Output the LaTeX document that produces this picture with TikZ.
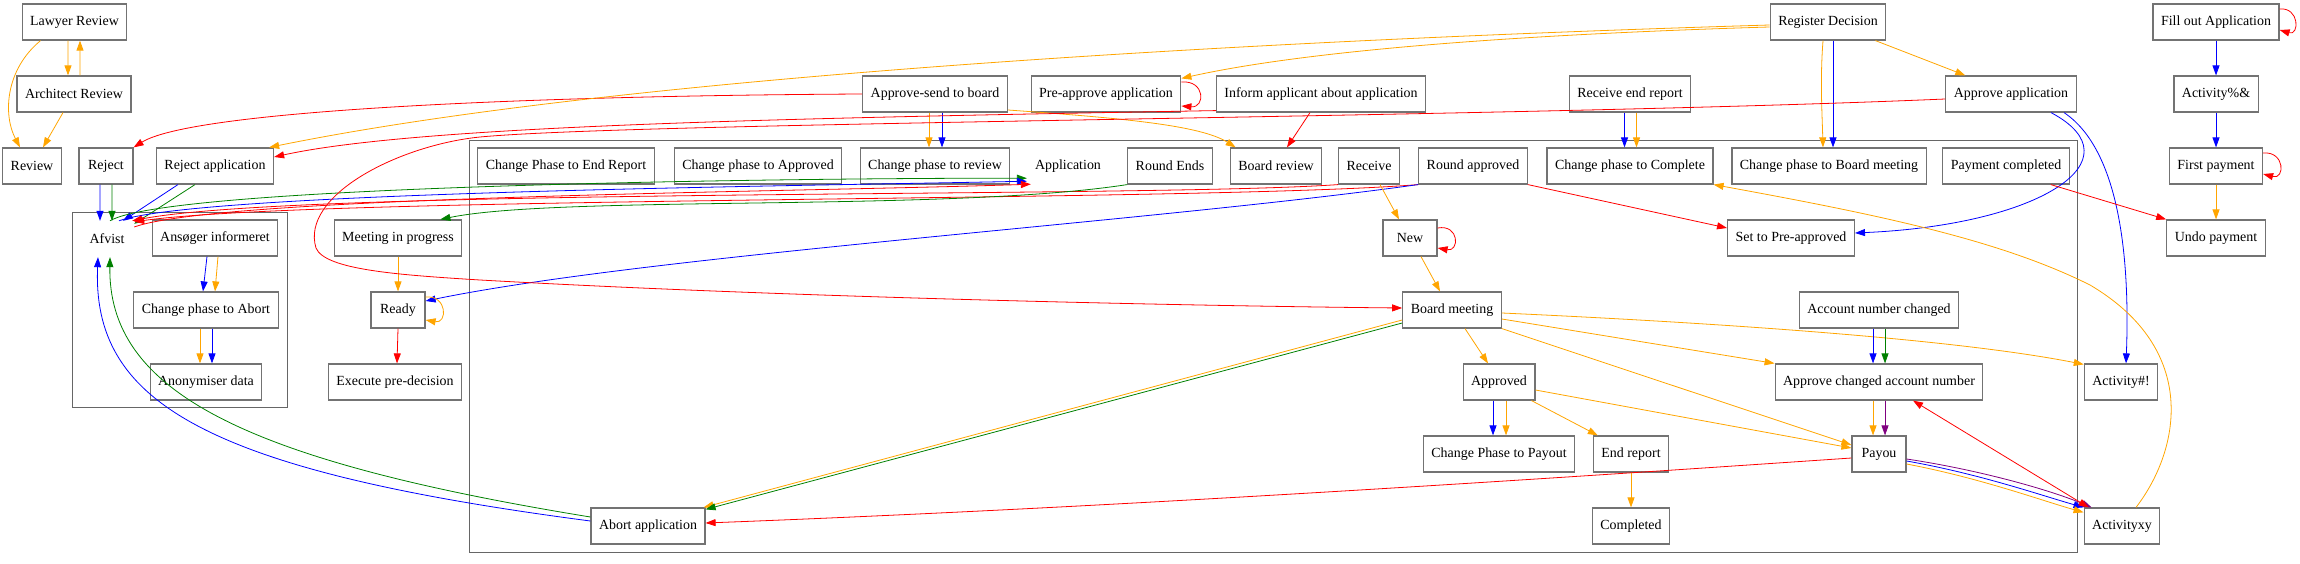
\documentclass[tikz,border=0pt]{standalone}
\usepackage{fontspec}
\setmainfont{Liberation Serif}
\usepackage{tikz}
\usetikzlibrary{arrows.meta}
\definecolor{gorange}{HTML}{FFA500}
\definecolor{ggreen}{HTML}{008000}
\definecolor{gpurple}{HTML}{800080}
\tikzset{
  state/.style    = {draw=black!55, line width=1.2pt, rectangle, minimum height=36bp,
                     minimum width=54bp, inner xsep=8bp, inner ysep=0pt},
  plainlbl/.style = {rectangle, minimum height=36bp, minimum width=54bp, inner xsep=8bp},
  cluster/.style  = {draw=black!60, line width=1pt},
  flow/.style     = {-{Triangle[length=10bp,width=7bp]}, line width=0.8pt},
  flowboth/.style = {{Triangle[length=10bp,width=7bp]}-{Triangle[length=10bp,width=7bp]}, line width=0.8pt},
}

\begin{document}
\begin{tikzpicture}[x=1bp,y=-1bp,font=\fontsize{14}{17}\selectfont]
\useasboundingbox (0,0) rectangle (2300,564);
% ---- clusters ----
\draw[cluster] (72,212) rectangle (287,407);
\draw[cluster] (469,140) rectangle (2077,552);
% ---- row 1 ----
\node[state] (lawyer) at (74.5,22) {Lawyer Review};
\node[state] (regdec) at (1828,22) {Register Decision};
\node[state] (fillout) at (2216,22) {Fill out Application};
% ---- row 2 ----
\node[state] (architect) at (74,94) {Architect Review};
\node[state] (sendboard) at (935,94) {Approve-send to board};
\node[state] (preapprove) at (1106,94) {Pre-approve application};
\node[state] (inform) at (1321,94) {Inform applicant about application};
\node[state] (rcvend) at (1630,94) {Receive end report};
\node[state] (approveapp) at (2011,94) {Approve application};
\node[state] (act1) at (2216,94) {Activity\%\&};
% ---- row 3 ----
\node[state] (review) at (32,166) {Review};
\node[state] (reject) at (106,166) {Reject};
\node[state] (rejectapp) at (215,166) {Reject application};
\node[state] (toend) at (566,166) {Change Phase to End Report};
\node[state] (toapproved) at (758,166) {Change phase to Approved};
\node[state] (toreview) at (935,166) {Change phase to review};
\node[plainlbl] (application) at (1068,166) {Application};
\node[state] (roundends) at (1170,166) {Round Ends};
\node[state] (boardreview) at (1276,166) {Board review};
\node[state] (receive) at (1369,166) {Receive};
\node[state] (roundappr) at (1473,166) {Round approved};
\node[state] (tocomplete) at (1630,166) {Change phase to Complete};
\node[state] (toboard) at (1829,166) {Change phase to Board meeting};
\node[state] (paydone) at (2006,166) {Payment completed};
\node[state] (firstpay) at (2216,166) {First payment};
% ---- row 4 ----
\node[plainlbl] (afvist) at (107,239) {Afvist};
\node[state] (ansoger) at (215,238) {Ansøger informeret};
\node[state] (meeting) at (398,238) {Meeting in progress};
\node[state] (new) at (1410,238) {New};
\node[state] (setpre) at (1791,238) {Set to Pre-approved};
\node[state] (undopay) at (2216,238) {Undo payment};
% ---- row 5 ----
\node[state] (toabort) at (206,310) {Change phase to Abort};
\node[state] (ready) at (398,310) {Ready};
\node[state] (boardmeet) at (1452,310) {Board meeting};
\node[state] (acctchg) at (1879,310) {Account number changed};
% ---- row 6 ----
\node[state] (anonym) at (206,382) {Anonymiser data};
\node[state] (execpre) at (395,382) {Execute pre-decision};
\node[state] (approved) at (1499,382) {Approved};
\node[state] (approvechg) at (1879,382) {Approve changed account number};
\node[state] (act2) at (2121,382) {Activity\#!};
% ---- row 7 ----
\node[state] (topayout) at (1499,454) {Change Phase to Payout};
\node[state] (endreport) at (1631,454) {End report};
\node[state] (payou) at (1879,454) {Payou};
% ---- row 8 ----
\node[state] (abort) at (648,526) {Abort application};
\node[state] (completed) at (1631,526) {Completed};
\node[state] (actxy) at (2122,526) {Activityxy};
% ---- left part ----
\draw[flow,gorange] ([xshift=-6.5bp]lawyer.south) -- ([xshift=-6bp]architect.north);
\draw[flow,gorange] ([xshift=6bp]architect.north) -- ([xshift=5.5bp]lawyer.south);
\draw[flow,gorange] ([xshift=19bp]lawyer.south west) .. controls (5,70) and (3,115) .. ([xshift=-12bp]review.north);
\draw[flow,gorange] ([xshift=-11bp]architect.south) -- ([xshift=11bp]review.north);
\draw[flow,blue] ([xshift=-6bp]reject.south) -- ([xshift=-7bp]afvist.north);
\draw[flow,ggreen] ([xshift=6bp]reject.south) -- ([xshift=5bp]afvist.north);
\draw[flow,blue] ([xshift=-37bp]rejectapp.south) -- ([xshift=16bp]afvist.north);
\draw[flow,ggreen] ([xshift=-20bp]rejectapp.south) -- ([yshift=-3bp]afvist.north east);
\draw[flow,blue] ([xshift=-8bp]ansoger.south) -- ([xshift=-3bp]toabort.north);
\draw[flow,gorange] ([xshift=3bp]ansoger.south) -- ([xshift=9bp]toabort.north);
\draw[flow,gorange] ([xshift=-6bp]toabort.south) -- ([xshift=-6bp]anonym.north);
\draw[flow,blue] ([xshift=6bp]toabort.south) -- ([xshift=6bp]anonym.north);
\draw[flow,blue] ([yshift=5bp]abort.west) .. controls (200,470) and (92,400) .. ([xshift=-9bp]afvist.south);
\draw[flow,ggreen] ([yshift=9bp]abort.west) .. controls (240,460) and (108,390) .. ([xshift=3bp]afvist.south);
% afvist to application
\draw[flow,ggreen] ([xshift=3bp]afvist.north) .. controls (170,185) and (800,178) .. ([yshift=6bp]application.south west);
\draw[flow,blue] ([xshift=12bp]afvist.north) .. controls (200,192) and (800,186) .. ([yshift=3bp]application.south west);
\draw[flow,red] ([yshift=12bp]afvist.east) .. controls (220,196) and (800,192) .. ([xshift=4bp]application.south west);
\draw[flow,red] (receive.south west) .. controls (1150,198) and (300,188) .. ([xshift=-2bp]afvist.north east);
\draw[flow,red] (roundappr.south west) .. controls (1200,202) and (320,196) .. ([yshift=-1bp]afvist.north east);
% meeting and ready
\draw[flow,ggreen] (roundends.south west) .. controls (950,212) and (560,195) .. ([xshift=-22bp]meeting.north east);
\draw[flow,blue] (roundappr.south west) .. controls (1150,222) and (650,255) .. ([yshift=9bp]ready.east);
\draw[flow,gorange] ([yshift=13bp]ready.east) .. controls +(22,-2) and +(22,4) .. ([yshift=-10bp]ready.east);
\draw[flow,gorange] (meeting.south) -- (ready.north);
\draw[flow,red] (ready.south) -- ([xshift=2bp]execpre.north);
% ---- top part ----
\draw[flow,red] (sendboard.west) .. controls (500,96) and (190,112) .. (reject.north east);
\draw[flow,gorange] ([xshift=-6bp]sendboard.south) -- ([xshift=-6bp]toreview.north);
\draw[flow,blue] ([xshift=7bp]sendboard.south) -- ([xshift=7bp]toreview.north);
\draw[flow,gorange] ([yshift=-16bp]sendboard.east) .. controls (1120,118) and (1200,125) .. ([xshift=6bp]boardreview.north west);
\draw[flow,red] ([xshift=-11bp]inform.south) -- ([xshift=11bp]boardreview.north);
\draw[flow,red] ([yshift=2bp]inform.south west) .. controls (800,118) and (420,125) .. ([yshift=9bp]rejectapp.east);
\draw[flow,red] ([yshift=12bp]preapprove.east) .. controls +(24,-2) and +(24,2) .. ([yshift=-12bp]preapprove.east);
\draw[flow,gorange] ([yshift=-3bp]regdec.west) .. controls (1200,42) and (600,80) .. ([xshift=-5bp]rejectapp.north east);
\draw[flow,gorange] ([yshift=-5bp]regdec.west) .. controls (1500,35) and (1300,52) .. ([yshift=-3bp]preapprove.north east);
\draw[flow,gorange] ([xshift=-5bp]regdec.south) .. controls (1820,80) and (1822,110) .. ([xshift=-6bp]toboard.north);
\draw[flow,blue] ([xshift=5bp]regdec.south) -- ([xshift=4bp]toboard.north);
\draw[flow,gorange] ([xshift=-11bp]regdec.south east) -- ([xshift=20bp]approveapp.north west);
\draw[flow,blue] ([xshift=-5.5bp]rcvend.south) -- ([xshift=-5.5bp]tocomplete.north);
\draw[flow,gorange] ([xshift=6.5bp]rcvend.south) -- ([xshift=6.5bp]tocomplete.north);
\draw[flow,red] ([yshift=-5bp]approveapp.west) .. controls (1500,118) and (640,122) .. (480,137)
  .. controls (400,145) and (300,195) .. (316,248) .. controls (325,270) and (400,275) .. (480,280)
  .. controls (800,298) and (1200,306) .. ([yshift=2bp]boardmeet.west);
\draw[flow,blue] ([xshift=40bp]approveapp.south) .. controls (2140,160) and (2040,225) .. ([yshift=5bp]setpre.east);
\draw[flow,blue] ([xshift=53bp]approveapp.south) .. controls (2120,150) and (2130,260) .. ([xshift=5bp]act2.north);
\draw[flow,red] (roundappr.south east) -- ([yshift=10bp]setpre.west);
\draw[flow,red] ([xshift=-19bp]paydone.south east) -- (undopay.north west);
% ---- right column ----
\draw[flow,red] ([yshift=13bp]fillout.east) .. controls +(20,-2) and +(20,6) .. ([yshift=-8bp]fillout.east);
\draw[flow,blue] (fillout.south) -- (act1.north);
\draw[flow,blue] (act1.south) -- (firstpay.north);
\draw[flow,red] ([yshift=13bp]firstpay.east) .. controls +(22,-2) and +(22,6) .. ([yshift=-8bp]firstpay.east);
\draw[flow,gorange] (firstpay.south) -- (undopay.north);
% ---- board meeting part ----
\draw[flow,gorange] ([xshift=11bp]receive.south) -- ([xshift=-11bp]new.north);
\draw[flow,red] ([yshift=10bp]new.east) .. controls +(22,-4) and +(22,4) .. ([yshift=-10bp]new.east);
\draw[flow,gorange] ([xshift=11bp]new.south) -- ([xshift=-12bp]boardmeet.north);
\draw[flow,gorange] ([yshift=-10bp]boardmeet.west) -- ([xshift=-2bp]abort.north east);
\draw[flow,ggreen] ([yshift=-13bp]boardmeet.west) -- ([yshift=-2bp]abort.north east);
\draw[flow,red] ([yshift=-4bp]payou.west) .. controls (1500,482) and (1100,508) .. ([yshift=3bp]abort.east);
\draw[flow,gorange] ([xshift=13bp]boardmeet.south) -- ([xshift=-11bp]approved.north);
\draw[flow,gorange] ([yshift=-9bp]boardmeet.east) -- (approvechg.north west);
\draw[flow,gorange] (boardmeet.south east) -- ([yshift=9bp]payou.west);
\draw[flow,gorange] ([yshift=-8bp]approved.east) -- ([yshift=6bp]payou.west);
\draw[flow,gorange] ([yshift=-3bp]boardmeet.east) .. controls (1700,322) and (1950,338) .. ([yshift=-1bp]act2.north west);
\draw[flow,blue] ([xshift=-6bp]approved.south) -- ([xshift=-6bp]topayout.north);
\draw[flow,gorange] ([xshift=7bp]approved.south) -- ([xshift=7bp]topayout.north);
\draw[flow,gorange] ([xshift=-4bp]approved.south east) -- ([xshift=5bp]endreport.north west);
\draw[flow,gorange] (endreport.south) -- (completed.north);
\draw[flow,blue] ([xshift=-6bp]acctchg.south) -- ([xshift=-6bp]approvechg.north);
\draw[flow,ggreen] ([xshift=6bp]acctchg.south) -- ([xshift=6bp]approvechg.north);
\draw[flow,gorange] ([xshift=-6bp]approvechg.south) -- ([xshift=-6bp]payou.north);
\draw[flow,gpurple] ([xshift=6bp]approvechg.south) -- ([xshift=6bp]payou.north);
\draw[flow,gpurple] ([yshift=-5bp]payou.east) .. controls (1980,470) and (2050,490) .. ([xshift=8bp]actxy.north west);
\draw[flow,blue] ([yshift=-7bp]payou.east) .. controls (1980,474) and (2040,495) .. (actxy.north west);
\draw[flow,gorange] ([yshift=-10bp]payou.east) .. controls (1980,478) and (2040,500) .. ([yshift=-5bp]actxy.north west);
\draw[flowboth,red] ([xshift=34bp]approvechg.south) -- ([xshift=5bp]actxy.north west);
\draw[flow,gorange] ([xshift=14bp]actxy.north) .. controls (2180,450) and (2200,350) .. (2090,285)
  .. controls (2000,240) and (1880,215) .. (tocomplete.south east);
\end{tikzpicture}
\end{document}
